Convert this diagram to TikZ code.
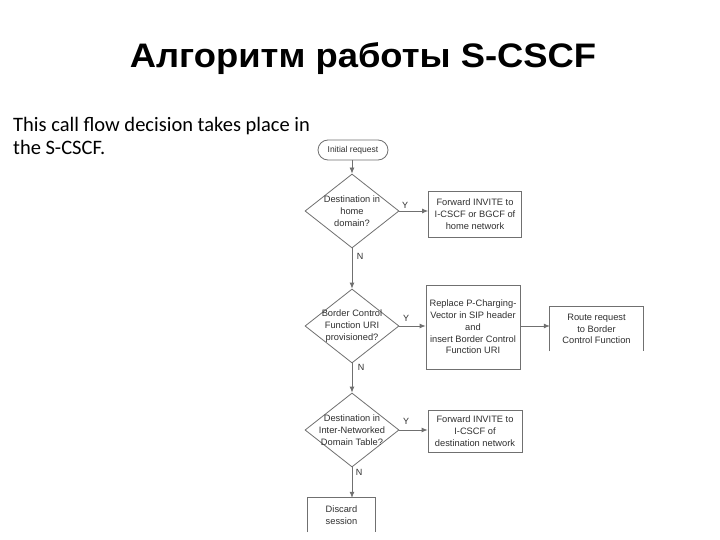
\documentclass[tikz,border=0pt]{standalone}
\usepackage{fontspec}
\setmainfont{Liberation Sans}
\newfontfamily\bodyfont{Carlito}
\usetikzlibrary{shapes.geometric,arrows.meta}
\definecolor{ln}{HTML}{707070}
\definecolor{tx}{HTML}{303030}
\begin{document}
\begin{tikzpicture}[x=1pt,y=-1pt,
  every node/.style={text=tx},
  dtxt/.style={font=\fontsize{9.3}{11.7}\selectfont, align=center, inner sep=0pt},
  dia/.style={diamond, draw=ln, line width=0.8pt, minimum width=94pt, minimum height=74pt, inner sep=0pt},
  boxn/.style={draw=ln, line width=0.8pt, rectangle, inner sep=0pt, font=\fontsize{9.3}{11.7}\selectfont, align=center},
  openbox/.style={rectangle, inner sep=0pt, font=\fontsize{9.3}{11.7}\selectfont, align=center},
  conn/.style={draw=ln, line width=0.8pt},
  arr/.style={conn, -{Latex[length=6pt,width=5pt]}},
  lbl/.style={font=\fontsize{9}{10}\selectfont, inner sep=0pt}
]
\useasboundingbox[fill=white] (0,0) rectangle (720,540);

\node[font=\bfseries\fontsize{34}{40}\selectfont, anchor=base, text=black] (title) at (363,68) {\scalebox{1.07}[1]{Алгоритм работы S-CSCF}};

\node[font=\bodyfont\fontsize{20.5}{23}\selectfont, anchor=north west, align=left, inner sep=0pt, text=black] (desc) at (13,117) {This call flow decision takes place in\\the S-CSCF.};

\node[draw=ln, line width=0.8pt, rounded corners=10pt, minimum width=70pt, minimum height=20pt, inner sep=0pt, font=\fontsize{8.5}{10}\selectfont] (init) at (353,150) {Initial request};

\node[dia] (d1) at (352,211) {};
\node[dtxt] (t1) at (d1) {Destination in\\home\\domain?};
\node[boxn, minimum width=93pt, minimum height=46pt] (b1) at (475,214) {Forward INVITE to\\I-CSCF or BGCF of\\home network};

\node[dia] (d2) at (352,326) {};
\node[dtxt] (t2) at (d2) {Border Control\\Function URI\\provisioned?};
\node[boxn, minimum width=94pt, minimum height=84pt] (b2) at (473,327) {Replace P-Charging-\\Vector in SIP header\\and\\insert Border Control\\Function URI};

\node[openbox, minimum width=93pt, minimum height=44pt] (b3) at (596.5,329) {Route request\\to Border\\Control Function};
\draw[conn] (b3.south west) -- (b3.north west) -- (b3.north east) -- (b3.south east);

\node[dia] (d3) at (352,430) {};
\node[dtxt] (t3) at (d3) {Destination in\\Inter-Networked\\Domain Table?};
\node[boxn, minimum width=94pt, minimum height=42pt] (b4) at (475,431) {Forward INVITE to\\I-CSCF of\\destination network};

\node[openbox, minimum width=67pt, minimum height=34pt] (b5) at (341.5,515) {Discard\\session};
\draw[conn] (b5.south west) -- (b5.north west) -- (b5.north east) -- (b5.south east);

\draw[arr] (init.south -| d1.north) -- (d1.north);
\draw[arr] (d1.east) -- (d1.east -| b1.west);
\draw[arr] (d1.south) -- (d2.north);
\draw[arr] (d2.east) -- (d2.east -| b2.west);
\draw[arr] (d2.east -| b2.east) -- (d2.east -| b3.west);
\draw[arr] (d2.south) -- (d3.north);
\draw[arr] (d3.east) -- (d3.east -| b4.west);
\draw[arr] (d3.south) -- (d3.south |- b5.north);

\node[lbl] (y1) at (405,205) {Y};
\node[lbl] (y2) at (406,318) {Y};
\node[lbl] (y3) at (406,421) {Y};
\node[lbl] (n1) at (360,256) {N};
\node[lbl] (n2) at (361,367) {N};
\node[lbl] (n3) at (359,472) {N};
\end{tikzpicture}
\end{document}
